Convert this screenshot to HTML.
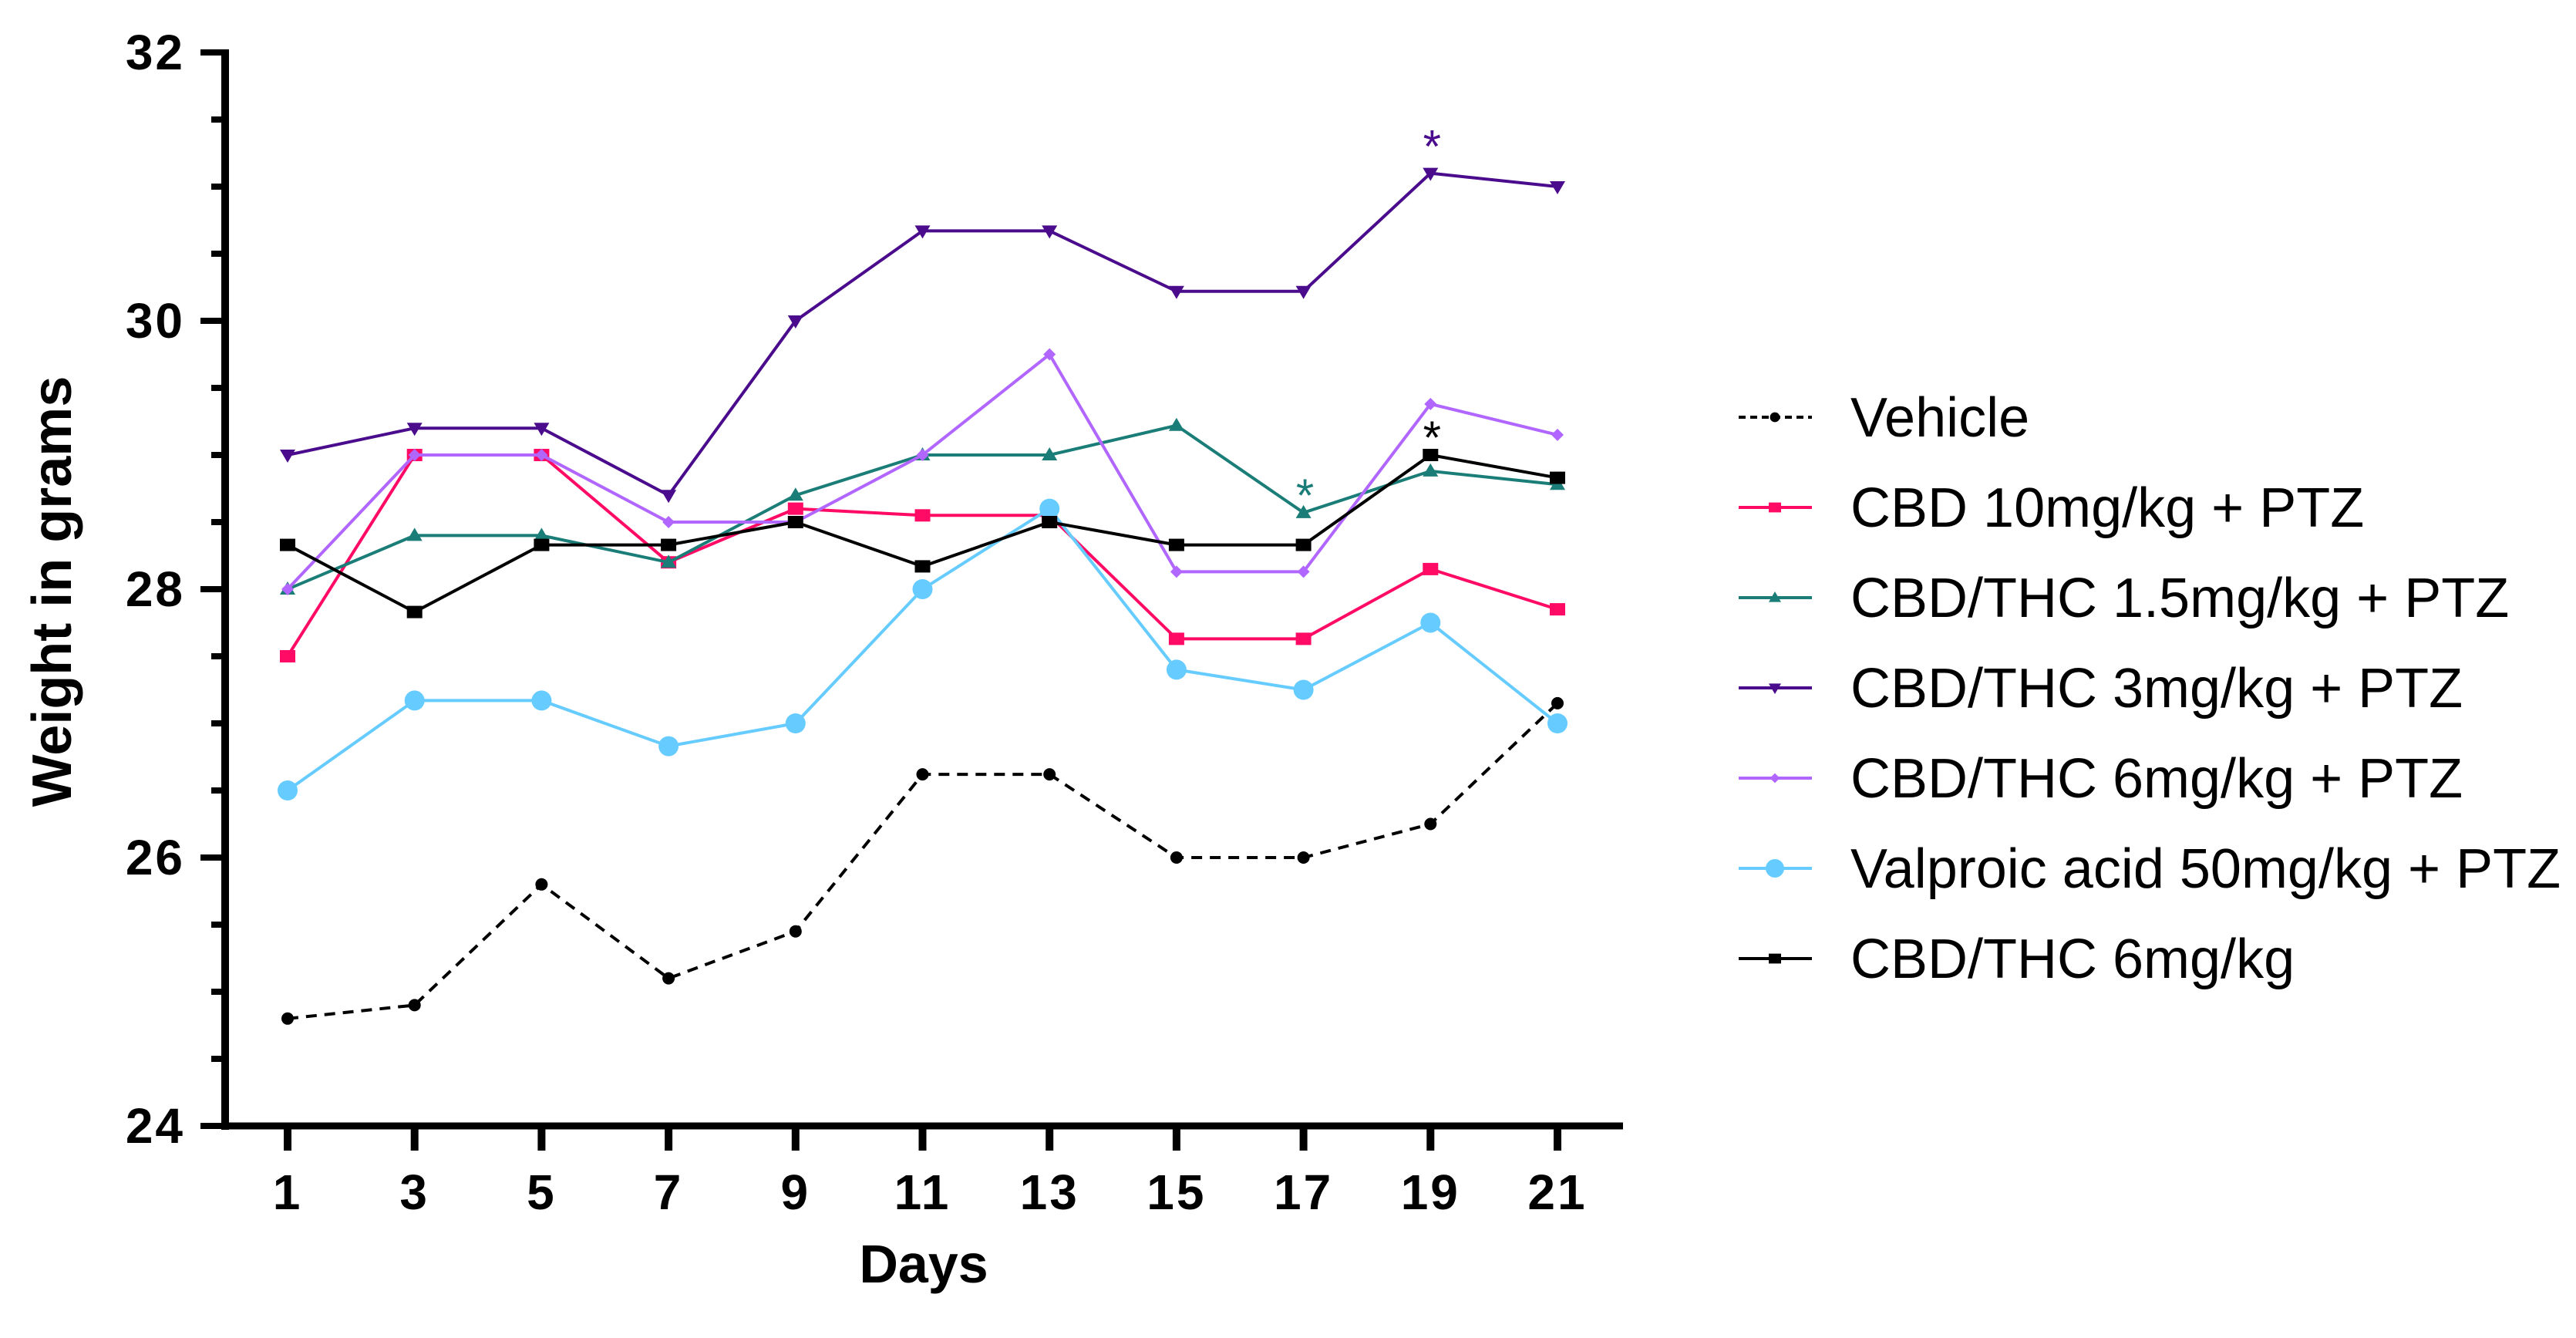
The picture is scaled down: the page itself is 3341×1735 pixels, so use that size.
<!DOCTYPE html>
<html><head><meta charset="utf-8"><style>
html,body{margin:0;padding:0;background:#fff}
svg{display:block}
text{font-family:"Liberation Sans",Arial,sans-serif}
</style></head><body>
<svg id="chart" width="3341" height="1735" xmlns="http://www.w3.org/2000/svg"></svg>
<script>
const days = [1,3,5,7,9,11,13,15,17,19,21];
const yTicks = [24,26,28,30,32];
const seriesNames = ["Vehicle","CBD 10mg/kg + PTZ","CBD/THC 1.5mg/kg + PTZ","CBD/THC 3mg/kg + PTZ","CBD/THC 6mg/kg + PTZ","Valproic acid 50mg/kg + PTZ","CBD/THC 6mg/kg"];
const vehicle = [24.8,24.9,25.8,25.1,25.45,26.62,26.62,26.0,26.0,26.25,27.15];
const cbd10 = [27.5,29,29,28.2,28.6,28.55,28.55,27.63,27.63,28.15,27.85];
const thc15 = [28,28.4,28.4,28.2,28.7,29,29,29.22,28.57,28.88,28.78];
const thc3 = [29,29.2,29.2,28.7,30,30.67,30.67,30.22,30.22,31.1,31.0];
const thc6ptz = [28,29,29,28.5,28.5,29,29.75,28.13,28.13,29.38,29.15];
const valproic = [26.5,27.17,27.17,26.83,27,28,28.6,27.4,27.25,27.75,27.0];
const thc6 = [28.33,27.83,28.33,28.33,28.5,28.17,28.5,28.33,28.33,29.0,28.83];

const svg = document.getElementById('chart');
const NS = 'http://www.w3.org/2000/svg';
const X0=373, X1=2020, Y0=1460, Y1=68, AX=292, AXEND=2105;
const xs = d => X0 + (d-1)/(21-1)*(X1-X0);
const ys = v => Y0 - (v-24)/(32-24)*(Y0-Y1);
function mk(tag, attrs, parent){const e=document.createElementNS(NS,tag);for(const k in attrs)e.setAttribute(k,attrs[k]);(parent||svg).appendChild(e);return e;}

const styles = [
 {data:vehicle,color:'#000',dash:'14,10',marker:'circle',r:8},
 {data:cbd10,color:'#ff0a64',marker:'square',r:10},
 {data:thc15,color:'#1b7d78',marker:'tri',r:10},
 {data:thc3,color:'#4a0c8c',marker:'tridown',r:10},
 {data:thc6ptz,color:'#b066ff',marker:'diamond',r:8},
 {data:valproic,color:'#66ccff',marker:'circle',r:13},
 {data:thc6,color:'#000',marker:'square',r:10}
];
function marker(g,type,x,y,r,color){
 if(type==='circle') return mk('circle',{cx:x,cy:y,r:r,fill:color},g);
 if(type==='square') return mk('rect',{x:x-r,y:y-r*0.8,width:2*r,height:1.6*r,fill:color},g);
 if(type==='tri') return mk('polygon',{points:`${x},${y-r} ${x-r},${y+r*0.7} ${x+r},${y+r*0.7}`,fill:color},g);
 if(type==='tridown') return mk('polygon',{points:`${x},${y+r} ${x-r},${y-r*0.7} ${x+r},${y-r*0.7}`,fill:color},g);
 if(type==='diamond') return mk('polygon',{points:`${x},${y-r} ${x+r},${y} ${x},${y+r} ${x-r},${y}`,fill:color},g);
}

styles.forEach((s,i)=>{
 const g=mk('g',{});
 
 
 const pts=s.data.map((v,j)=>xs(days[j])+','+ys(v)).join(' ');
 const pl=mk('polyline',{points:pts,fill:'none',stroke:s.color,'stroke-width':4,'stroke-dasharray':s.dash||'none'},g);
 
 
 s.data.forEach((v,j)=>{
  const m=marker(g,s.marker,xs(days[j]),ys(v),s.r,s.color);
  
  
 });
});

const ax=mk('g',{});


mk('line',{x1:AX,y1:Y1-4,x2:AX,y2:Y0+5,stroke:'#000','stroke-width':10},ax);
mk('line',{x1:AX-5,y1:Y0,x2:AXEND,y2:Y0,stroke:'#000','stroke-width':9},ax);
for(let v=24;v<=32;v+=0.5){
 const major = yTicks.includes(v);
 mk('line',{x1:AX-(major?32:18),y1:ys(v),x2:AX,y2:ys(v),stroke:'#000','stroke-width':8},ax);
}
yTicks.forEach(v=>{
 const t=mk('text',{x:AX-52,y:ys(v)+22,'text-anchor':'end','font-size':64,'font-weight':'bold','letter-spacing':3},ax);
 
 
 t.textContent=v;
});
days.forEach(d=>{
 mk('line',{x1:xs(d),y1:Y0,x2:xs(d),y2:Y0+32,stroke:'#000','stroke-width':10},ax);
 const t=mk('text',{x:xs(d),y:1568,'text-anchor':'middle','font-size':64,'font-weight':'bold','letter-spacing':3},ax);
 
 
 t.textContent=d;
});
const xt=mk('text',{x:1198,y:1663,'text-anchor':'middle','font-size':70,'font-weight':'bold'});


xt.textContent='Days';
const yt=mk('text',{x:0,y:0,transform:'translate(92,767) rotate(-90)','text-anchor':'middle','font-size':72,'font-weight':'bold'});


yt.textContent='Weight in grams';

const stars=[[19,31.1,'#4a0c8c',-14],[19,29.0,'#000',-2],[17,28.57,'#1b7d78',-2]];
stars.forEach(s=>{
 const t=mk('text',{x:xs(s[0])+2,y:ys(s[1])+s[3],'text-anchor':'middle','font-size':60,fill:s[2]});
 
 
 t.textContent='*';
});

const lg=mk('g',{});


styles.forEach((s,i)=>{
 const y=541+i*117;
 const e=mk('g',{},lg);
 
 
 mk('line',{x1:2255,y1:y,x2:2350,y2:y,stroke:s.color,'stroke-width':4,'stroke-dasharray':s.dash?'9,6':'none'},e);
 marker(e,s.marker,2302,y,s.marker==='circle'&&s.r>10?12:s.r*0.8,s.color);
 const t=mk('text',{x:2400,y:y+25,'font-size':72},e);
 t.textContent=seriesNames[i];
});
</script>
</body></html>
